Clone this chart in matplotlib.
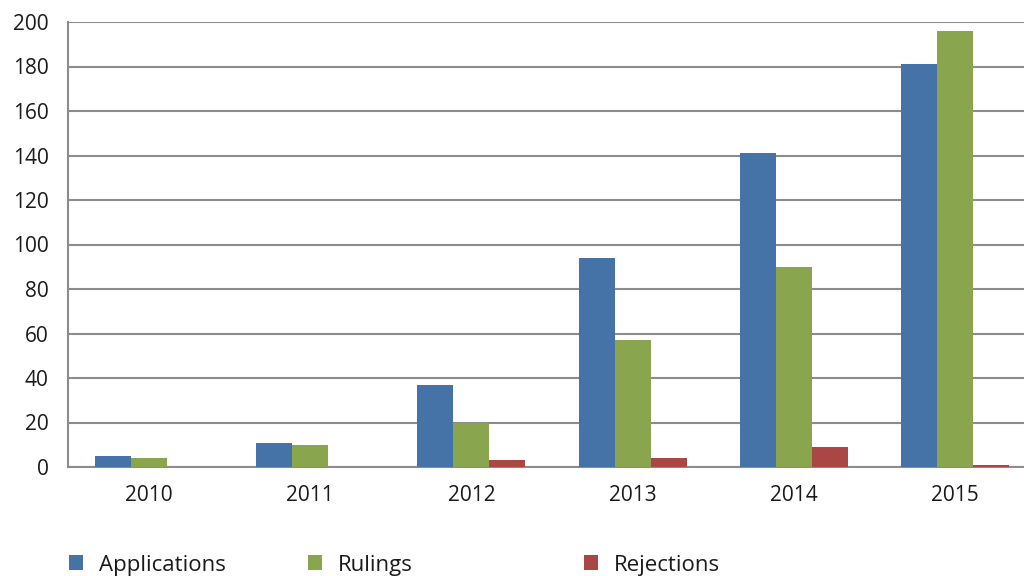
import matplotlib.pyplot as plt
import numpy as np

plt.rcParams['font.family'] = ['Open Sans', 'DejaVu Sans']

years = ['2010', '2011', '2012', '2013', '2014', '2015']
applications = [5, 11, 37, 94, 141, 181]
rulings = [4, 10, 20, 57, 90, 196]
rejections = [0, 0, 3, 4, 9, 1]

series = [('Applications', applications, '#4572A7'),
          ('Rulings', rulings, '#89A54E'),
          ('Rejections', rejections, '#AA4643')]

fig = plt.figure(figsize=(10.24, 5.76), dpi=100)
# plot area runs a little past the right edge of the image, as in the original
ax = fig.add_axes([68 / 1024, 1 - 467 / 576, 968 / 1024, (467 - 22) / 576])

x = np.arange(len(years))
w = 0.223
bars = []
for i, (name, vals, col) in enumerate(series):
    b = ax.bar(x + (i - 1) * w, vals, w, color=col, label=name, zorder=3)
    bars.append(b)

ax.set_xlim(-0.5, len(years) - 0.5)
ax.set_ylim(0, 200)
ax.set_yticks(range(0, 201, 20))
ax.set_xticks(x)
ax.set_xticklabels(years)
ax.yaxis.grid(True, color='#8c8c8c', linewidth=1.5, zorder=0)
ax.tick_params(axis='both', length=0, labelsize=15, colors='#1a1a1a')
ax.tick_params(axis='y', pad=14)
ax.tick_params(axis='x', pad=13)
for s in ['top', 'right']:
    ax.spines[s].set_visible(False)
for s in ['left', 'bottom']:
    ax.spines[s].set_color('#8c8c8c')
    ax.spines[s].set_linewidth(1.5)

# separate legend entries, spaced like the original
anchors = [69 / 1024, 308 / 1024, 584 / 1024]
for b, (name, _, _), ax_x in zip(bars, series, anchors):
    leg = fig.legend([b], [name], loc='center left',
                     bbox_to_anchor=(ax_x, 1 - 565 / 576), frameon=False,
                     fontsize=16, handlelength=0.65, handleheight=0.65,
                     handletextpad=0.7, borderaxespad=0, borderpad=0)
    for t in leg.get_texts():
        t.set_color('#1a1a1a')

fig.savefig('out.png', dpi=100)
